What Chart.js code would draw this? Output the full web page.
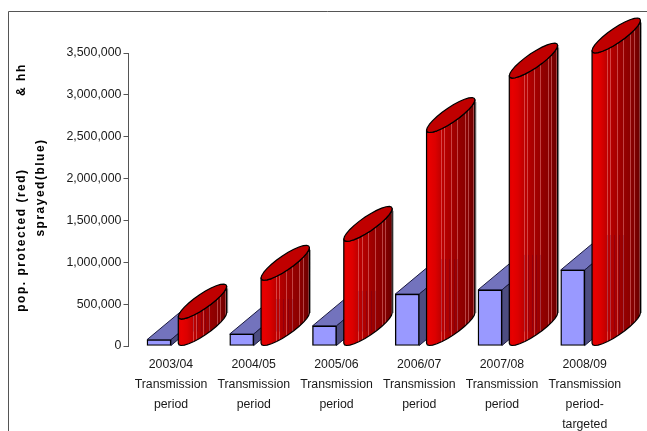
<!DOCTYPE html>
<html>
<head>
<meta charset="utf-8">
<title>Population protected and households sprayed</title>
<script src="https://cdn.jsdelivr.net/npm/chart.js@4/dist/chart.umd.min.js"></script>
<style>
  html, body { margin: 0; padding: 0; background: #fff; }
  #wrap { width: 647px; height: 431px; }
</style>
</head>
<body>
<div id="wrap"><canvas id="chart" width="647" height="431"></canvas></div>
<script>
  const PERIODS = [
    ['2003/04', 'Transmission', 'period'],
    ['2004/05', 'Transmission', 'period'],
    ['2005/06', 'Transmission', 'period'],
    ['2006/07', 'Transmission', 'period'],
    ['2007/08', 'Transmission', 'period'],
    ['2008/09', 'Transmission', 'period-', 'targeted'],
  ];
  const SPRAYED = [75000, 143000, 240000, 620000, 670000, 908000];
  const PROTECTED = [322000, 785000, 1250000, 2550000, 3200000, 3500000];

  const AXIS_COLOR = '#555';
  const TEXT_COLOR = '#1a1a1a';
  const FONT = "'Liberation Sans', Arial, sans-serif";

  // oblique depth shared by the boxes and the cylinders
  const DEPTH_X = 42;
  const DEPTH_Y = 35;
  const CYL_NUDGE = -1.5;
  const CAP_SEGMENTS = 26;

  // categories start a little right of the value axis line
  const CATEGORY_LEFT = 129.6;
  const CATEGORY_RIGHT = 626.1;

  // shading across the cylinder wall, left to right
  const WALL_STOPS = [
    [0, '#dc0000'], [0.06, '#e80000'], [0.18, '#dc0000'], [0.3, '#c00000'],
    [0.5, '#a80000'], [0.7, '#920000'], [0.85, '#860000'], [1, '#680000'],
  ];
  const STREAKS = [0.3, 0.37, 0.51, 0.64, 0.79, 0.86, 0.97];
  const FACETS = [0.3, 0.38, 0.46, 0.56, 0.64];

  function polygon(ctx, pts) {
    ctx.beginPath();
    pts.forEach((p, i) => (i ? ctx.lineTo(p[0], p[1]) : ctx.moveTo(p[0], p[1])));
    ctx.closePath();
  }

  // side and top faces of a blue box, painted behind the library's front face
  function drawBoxDepth(ctx, el) {
    const l = el.x - el.width / 2, r = el.x + el.width / 2;
    polygon(ctx, [[l, el.y], [r, el.y], [r + DEPTH_X, el.y - DEPTH_Y], [l + DEPTH_X, el.y - DEPTH_Y]]);
    ctx.fillStyle = '#7373bd';
    ctx.fill();
    ctx.stroke();
    polygon(ctx, [[r, el.y], [r + DEPTH_X, el.y - DEPTH_Y], [r + DEPTH_X, el.base - DEPTH_Y], [r, el.base]]);
    ctx.fillStyle = '#4d4d80';
    ctx.fill();
    ctx.stroke();
  }

  function drawCylinder(ctx, el, boxTop) {
    const hw = el.width / 2;
    const cx = el.x + CYL_NUDGE + DEPTH_X / 2;
    const topY = el.y - DEPTH_Y / 2;
    const baseY = el.base - DEPTH_Y / 2;
    const vx = DEPTH_X / 2, vy = -DEPTH_Y / 2;
    const at = (cy, t) => [cx + hw * Math.cos(t) + vx * Math.sin(t), cy + vy * Math.sin(t)];
    const tLeft = Math.atan2(-vx, -hw);
    const halfWidth = Math.hypot(hw, vx);
    const left = cx - halfWidth, right = cx + halfWidth;

    const wall = [];
    for (let i = 0; i <= CAP_SEGMENTS / 2; i++) wall.push(at(baseY, tLeft + (Math.PI * 2 * i) / CAP_SEGMENTS));
    for (let i = CAP_SEGMENTS / 2; i >= 0; i--) wall.push(at(topY, tLeft + (Math.PI * 2 * i) / CAP_SEGMENTS));

    const grad = ctx.createLinearGradient(left, 0, right, 0);
    WALL_STOPS.forEach(s => grad.addColorStop(s[0], s[1]));

    ctx.save();
    polygon(ctx, wall);
    ctx.fillStyle = grad;
    ctx.fill();
    ctx.clip();

    ctx.lineWidth = 1;
    ctx.strokeStyle = 'rgba(255, 170, 170, 0.4)';
    STREAKS.forEach(f => {
      const x = Math.round(left + f * (right - left)) + 0.5;
      ctx.beginPath();
      ctx.moveTo(x, topY - DEPTH_Y);
      ctx.lineTo(x, el.base);
      ctx.stroke();
    });
    // the box behind shows faintly through the wall
    ctx.strokeStyle = 'rgba(60, 0, 60, 0.22)';
    FACETS.forEach(f => {
      const x = Math.round(left + f * (right - left)) + 0.5;
      ctx.beginPath();
      ctx.moveTo(x, boxTop - DEPTH_Y);
      ctx.lineTo(x, el.base - 14);
      ctx.stroke();
    });
    ctx.restore();

    // soft grey edge down the shaded side
    ctx.strokeStyle = 'rgba(110, 110, 110, 0.7)';
    ctx.lineWidth = 1;
    ctx.beginPath();
    ctx.moveTo(right + 1, topY - 13);
    ctx.lineTo(right + 1, baseY - 15);
    ctx.stroke();

    ctx.strokeStyle = '#000';
    ctx.lineWidth = 1.2;
    polygon(ctx, wall);
    ctx.stroke();

    const cap = [];
    for (let i = 0; i < CAP_SEGMENTS; i++) cap.push(at(topY, tLeft + (Math.PI * 2 * i) / CAP_SEGMENTS));
    polygon(ctx, cap);
    ctx.fillStyle = '#c00000';
    ctx.fill();
    ctx.stroke();
  }

  const frame3d = {
    id: 'frame3d',
    afterLayout(chart) {
      const x = chart.scales.x;
      x.left = CATEGORY_LEFT;
      x.right = CATEGORY_RIGHT;
      x.width = CATEGORY_RIGHT - CATEGORY_LEFT;
      x.configure();
    },
    beforeDraw(chart) {
      const ctx = chart.ctx;
      ctx.save();
      ctx.strokeStyle = AXIS_COLOR;
      ctx.lineWidth = 1;
      ctx.beginPath();
      ctx.moveTo(8.5, chart.height);
      ctx.lineTo(8.5, 11.5);
      ctx.lineTo(chart.width, 11.5);
      ctx.stroke();
      ctx.restore();
    },
    beforeDatasetsDraw(chart) {
      const ctx = chart.ctx;
      ctx.save();
      ctx.strokeStyle = '#1a1a40';
      ctx.lineWidth = 1;
      ctx.lineJoin = 'round';
      chart.getDatasetMeta(0).data.forEach(el => drawBoxDepth(ctx, el));
      ctx.restore();
    },
    afterDatasetsDraw(chart) {
      const ctx = chart.ctx;
      const boxes = chart.getDatasetMeta(0).data;
      ctx.save();
      ctx.lineJoin = 'round';
      chart.getDatasetMeta(1).data.forEach((el, i) => drawCylinder(ctx, el, boxes[i].y));
      ctx.restore();
    },
  };

  // Chart.js has no letter spacing option, so the y title gets it here
  function spaceOutTitle(scale) {
    if (scale.spacedTitle) return;
    scale.spacedTitle = true;
    const drawTitle = scale.drawTitle;
    scale.drawTitle = function () {
      const ctx = this.ctx;
      ctx.save();
      ctx.letterSpacing = '1.5px';
      ctx.translate(0, -12);
      drawTitle.call(this);
      ctx.restore();
    };
  }

  new Chart(document.getElementById('chart'), {
    type: 'bar',
    data: {
      labels: PERIODS,
      datasets: [
        {
          label: 'Sprayed',
          data: SPRAYED,
          backgroundColor: '#9999ff',
          borderColor: '#000',
          borderWidth: 1.4,
          borderSkipped: false,
          barThickness: 24,
        },
        {
          label: 'Protected',
          data: PROTECTED,
          backgroundColor: 'transparent',
          borderWidth: 0,
          barThickness: 24,
        },
      ],
    },
    plugins: [frame3d],
    options: {
      responsive: false,
      animation: false,
      layout: { padding: { left: 12, top: 53, right: 21, bottom: 0 } },
      plugins: {
        legend: { display: false },
        title: { display: false },
        tooltip: { enabled: false },
      },
      scales: {
        x: {
          grid: { display: false, drawTicks: false },
          border: { display: false },
          ticks: {
            color: TEXT_COLOR,
            font: { family: FONT, size: 12.3, lineHeight: '20px' },
            autoSkip: false,
            maxRotation: 0,
            padding: 9,
          },
          afterFit(scale) { scale.height = 85; },
        },
        y: {
          min: 0,
          max: 3500000,
          grid: { drawOnChartArea: false, color: AXIS_COLOR, tickLength: 5 },
          border: { color: AXIS_COLOR },
          ticks: {
            stepSize: 500000,
            color: TEXT_COLOR,
            padding: 2,
            font: { family: FONT, size: 12.4 },
            callback: v => v.toLocaleString('en-US'),
          },
          title: {
            display: true,
            text: ['pop. protected (red)               & hh', 'sprayed(blue)'],
            color: '#000',
            padding: 0,
            font: { family: FONT, size: 12, weight: 'bold', lineHeight: '19px' },
          },
          afterFit(scale) {
            scale.width = 116.5;
            spaceOutTitle(scale);
          },
        },
      },
    },
  });
</script>
</body>
</html>
